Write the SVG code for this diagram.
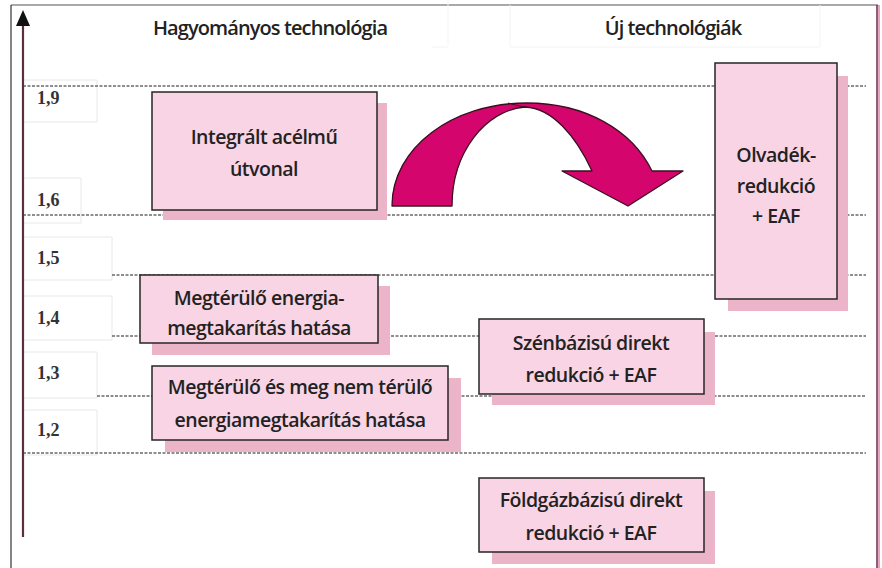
<svg xmlns="http://www.w3.org/2000/svg" width="882" height="568" viewBox="0 0 882 568">
<style>
.t{font-family:"Open Sans","Noto Sans",sans-serif;font-weight:600;font-size:19.5px;letter-spacing:-0.5px;fill:#222;text-anchor:middle}
.h{font-family:"Open Sans","Noto Sans",sans-serif;font-weight:600;font-size:20px;letter-spacing:-0.9px;fill:#222;text-anchor:middle}
.n{font-family:"Liberation Serif",serif;font-weight:bold;font-size:18px;fill:#333}
.box{fill:#f9d4e4;stroke:#262626;stroke-width:1.5}
.sh{fill:#ecb4c9}
.dash{stroke:#6a6a6a;stroke-width:1.3;stroke-dasharray:3 1.5;fill:none}
.faint{fill:#fff;stroke:#e8e8e8;stroke-width:1}
</style>
<rect width="882" height="568" fill="#fff"/>
<g id="frame">
<line x1="11" y1="5" x2="878" y2="5" stroke="#555" stroke-width="1.2"/>
<line x1="11" y1="5" x2="11" y2="568" stroke="#333" stroke-width="1.2"/>
<line x1="877" y1="5" x2="877" y2="568" stroke="#6b2a48" stroke-width="1.5"/>
<line x1="879" y1="5" x2="879" y2="568" stroke="#e3a5c0" stroke-width="2"/>
<path d="M448,0 V45 M432,47 H448 M510,5 V47 H820 V5" fill="none" stroke="#f3f3f3"/>
</g>
<g id="labels">
<path class="faint" d="M23,80 H97 V122 H23"/>
<path class="faint" d="M23,178 H81 V223 H23"/>
<path class="faint" d="M23,237 H112 V280 H23"/>
<path class="faint" d="M23,296 H112 V340 H23"/>
<path class="faint" d="M23,352 H97 V398 H23"/>
<path class="faint" d="M23,410 H97 V455 H23"/>
<text class="n" x="37" y="104">1,9</text>
<text class="n" x="37" y="206">1,6</text>
<text class="n" x="37" y="264">1,5</text>
<text class="n" x="37" y="324">1,4</text>
<text class="n" x="37" y="379">1,3</text>
<text class="n" x="37" y="436">1,2</text>
</g>
<g id="gridlines">
<line class="dash" x1="23" y1="86" x2="866" y2="86"/>
<line class="dash" x1="23" y1="215" x2="866" y2="215"/>
<line class="dash" x1="112" y1="275" x2="866" y2="275"/>
<line class="dash" x1="112" y1="336" x2="866" y2="336"/>
<line class="dash" x1="97" y1="396" x2="866" y2="396"/>
<line class="dash" x1="23" y1="453" x2="866" y2="453"/>
</g>
<g id="axis">
<line x1="23" y1="22" x2="23" y2="537" stroke="#5a3040" stroke-width="2.2"/>
<polygon points="23,10 16,26 30,26" fill="#111"/>
</g>
<g id="titles">
<text class="h" x="270" y="35">Hagyományos technológia</text>
<text class="h" x="673" y="35">Új technológiák</text>
</g>
<g id="n-integralt">
<rect class="sh" x="163" y="103" width="224" height="117"/>
<rect class="box" x="152" y="92" width="225" height="118"/>
<text class="t" x="264" y="144">Integrált acélmű</text>
<text class="t" x="264" y="176">útvonal</text>
</g>
<g id="n-olvadek">
<rect class="sh" x="728" y="76" width="120" height="235"/>
<rect class="box" x="715" y="63" width="122" height="236"/>
<text class="t" x="776" y="162">Olvadék-</text>
<text class="t" x="776" y="193">redukció</text>
<text class="t" x="776" y="223">+ EAF</text>
</g>
<g id="n-megterulo1">
<rect class="sh" x="152" y="286" width="238" height="69"/>
<rect class="box" x="140" y="275" width="238" height="68"/>
<text class="t" x="259" y="305">Megtérülő energia-</text>
<text class="t" x="259" y="335">megtakarítás hatása</text>
</g>
<g id="n-megterulo2">
<rect class="sh" x="165" y="378" width="296" height="74"/>
<rect class="box" x="152" y="366" width="296" height="74"/>
<text class="t" x="300" y="394">Megtérülő és meg nem térülő</text>
<text class="t" x="300" y="427">energiamegtakarítás hatása</text>
</g>
<g id="n-szen">
<rect class="sh" x="492" y="332" width="223" height="73"/>
<rect class="box" x="479" y="319" width="225" height="75"/>
<text class="t" x="591" y="350">Szénbázisú direkt</text>
<text class="t" x="591" y="382">redukció + EAF</text>
</g>
<g id="n-foldgaz">
<rect class="sh" x="492" y="491" width="223" height="73"/>
<rect class="box" x="479" y="478" width="225" height="74"/>
<text class="t" x="591" y="507">Földgázbázisú direkt</text>
<text class="t" x="591" y="540">redukció + EAF</text>
</g>
<g id="connectors">
<path d="M392,206 C392,148 452,103 527,103 C585,103 632,130 652,171 L683,171 L628,206 L562,171 L592,171 C576,136 552,108 525,107 C486,110 452,152 452,206 Z" fill="#d4066e" stroke="#3a1020" stroke-width="1.3" stroke-linejoin="round"/>
<path d="M525,107 C518,106 512,104 508,103" fill="none" stroke="#3a1020" stroke-width="1"/>
</g>
</svg>
